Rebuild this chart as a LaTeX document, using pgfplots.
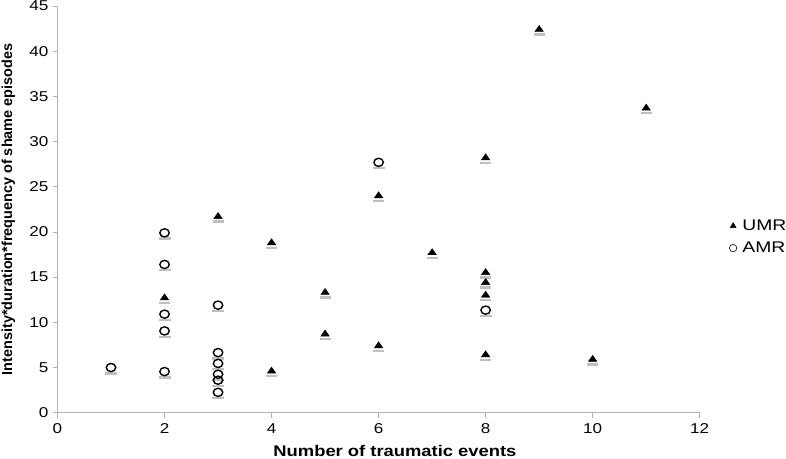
\documentclass[border=0pt]{standalone}
\usepackage{fontspec}
\setmainfont{Liberation Sans}
\usepackage{pgfplots}
\pgfplotsset{compat=1.18}

% points
\pgfplotstableread{
x y
2 12.7
3 21.7
4 18.8
4 4.6
5 13.3
5 8.7
6 7.4
6 24.0
7 17.7
8 28.2
8 15.5
8 14.4
8 13.0
8 6.4
9 42.4
10 5.9
11 33.7
}\umr

\pgfplotstableread{
x y
1 5.0
2 19.9
2 16.4
2 10.9
2 9.05
2 4.55
3 11.9
3 6.65
3 5.45
3 4.25
3 3.6
3 2.25
6 27.7
8 11.35
}\amr

\begin{document}
\begin{tikzpicture}
\useasboundingbox (0,0) rectangle (786bp,459bp);
\begin{axis}[
    at={(57.5bp,46.3bp)}, anchor=south west,
    scale only axis, width=642.2bp, height=406.7bp,
    xmin=0, xmax=12, ymin=0, ymax=45,
    xtick={0,2,...,12}, ytick={0,5,...,45},
    axis x line=bottom, axis y line=left,
    axis line style={-, draw=black!30, line width=0.8bp},
    tick style={draw=black!30, line width=0.8bp},
    tick align=outside, major tick length=5bp,
    /pgf/number format/assume math mode=true,
    ticklabel style={font=\fontsize{14.3}{16}\selectfont, xscale=1.2},
    xticklabel style={yshift=-2bp},
    xlabel={Number of traumatic events},
    ylabel={Intensity*duration*frequency of shame episodes},
    xlabel style={font=\bfseries\fontsize{15.5}{17}\selectfont, xscale=1.19,
        at={(axis description cs:0.5255,-0.108)}, anchor=base},
    ylabel style={font=\bfseries\fontsize{14.5}{16}\selectfont,
        at={(axis description cs:-0.0763,0.5)}, anchor=center},
    legend style={at={(axis description cs:1.046,0.432)}, anchor=west,
        draw=none, fill=none, font=\fontsize{15.5}{17}\selectfont,
        row sep=5bp, inner sep=0pt,
        nodes={xscale=1.25, inner ysep=2.5bp, inner xsep=4.5bp}},
    legend cell align=left,
    legend image code/.code={\draw[#1] plot coordinates {(0.16cm,0cm)};},
    clip=false,
]
% soft shadows under the markers
\addplot[only marks, mark=-, draw=black!25, mark size=5.5bp, line width=2.4bp,
    mark options={yshift=-5bp}, forget plot] table {\umr};
\addplot[only marks, mark=-, draw=black!25, mark size=6bp, line width=2.4bp,
    mark options={yshift=-5.8bp}, forget plot] table {\amr};

\addplot[only marks, mark=triangle*, black, mark size=4.1bp,
    mark options={xscale=1.2}, forget plot] table {\umr};
\addplot[only marks, mark=o, black, mark size=4.1bp, line width=1.4bp,
    mark options={xscale=1.15, fill=white}, forget plot] table {\amr};

\addlegendimage{only marks, mark=triangle*, black, mark size=3.4bp}
\addlegendentry{UMR}
\addlegendimage{only marks, mark=o, black, mark size=3.7bp, line width=0.6bp}
\addlegendentry{AMR}
\end{axis}
\end{tikzpicture}
\end{document}
